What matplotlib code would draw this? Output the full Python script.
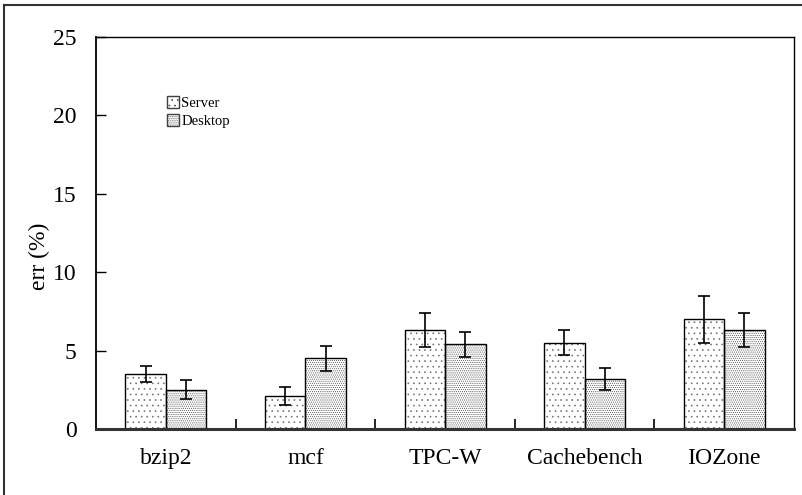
import numpy as np
import matplotlib.pyplot as plt
from matplotlib.patches import Patch
from matplotlib.lines import Line2D

plt.rcParams["font.family"] = ["Liberation Serif", "DejaVu Serif"]
plt.rcParams["hatch.linewidth"] = 0.45

categories = ["bzip2", "mcf", "TPC-W", "Cachebench", "IOZone"]
server = [3.5, 2.1, 6.3, 5.5, 7.0]
server_err = [0.5, 0.6, 1.1, 0.8, 1.5]
desktop = [2.5, 4.5, 5.4, 3.2, 6.3]
desktop_err = [0.6, 0.8, 0.8, 0.7, 1.1]

fig = plt.figure(figsize=(8.03, 4.95), dpi=100)
ax = fig.add_axes([0.1196, 0.1333, 0.8692, 0.792])

# outer frame (right/bottom edges are cropped in the original)
fig.add_artist(Line2D([4 / 803, 4 / 803], [0, 1 - 5 / 495], transform=fig.transFigure, color="#333333", lw=1.5))
fig.add_artist(Line2D([4 / 803, 802 / 803], [1 - 5 / 495, 1 - 5 / 495], transform=fig.transFigure, color="#333333", lw=1.5))

x = np.arange(len(categories))
w = 0.29
ekw = dict(ecolor="black", elinewidth=1.2, capsize=4, capthick=1.2, zorder=4)

# dotted fill textures first, then black outlines and error bars on top
ax.bar(x - w / 2, server, w, color="white", edgecolor="#707070", linewidth=0, hatch="...", zorder=2)
ax.bar(x + w / 2, desktop, w, color="white", edgecolor="#505050", linewidth=0, hatch="........", zorder=2)
ax.bar(x - w / 2, server, w, yerr=server_err, fill=False, edgecolor="black",
       linewidth=1.0, error_kw=ekw, zorder=3)
ax.bar(x + w / 2, desktop, w, yerr=desktop_err, fill=False, edgecolor="black",
       linewidth=1.0, error_kw=ekw, zorder=3)

ax.set_xlim(-0.5, len(categories) - 0.5)
ax.set_ylim(0, 25)
ax.set_yticks([0, 5, 10, 15, 20, 25])
ax.set_xticks(x)
ax.set_xticklabels(categories)
ax.set_xticks(x[:-1] + 0.5, minor=True)
ax.tick_params(axis="x", which="major", length=0, labelsize=17, pad=14)
ax.tick_params(axis="x", which="minor", direction="in", length=7, width=1.2)
ax.tick_params(axis="y", direction="in", length=7, width=1.0, labelsize=17, pad=14)
ax.set_ylabel("err (%)", fontsize=17, labelpad=0)
ax.yaxis.set_label_coords(-0.066, 0.44)

ax.spines["bottom"].set_linewidth(2.2)
ax.spines["bottom"].set_color("#333333")
ax.spines["left"].set_linewidth(1.3)
for s in ["top", "right"]:
    ax.spines[s].set_linewidth(1.0)
for s in ax.spines.values():
    s.set_zorder(5)

handles = [Patch(facecolor="white", edgecolor="#404040", hatch="...", label="Server"),
           Patch(facecolor="white", edgecolor="#404040", hatch="........", label="Desktop")]
ax.legend(handles=handles, loc="upper left", bbox_to_anchor=(0.091, 0.867), frameon=False,
          fontsize=10.5, handlelength=0.8, handleheight=0.8, handletextpad=0.2,
          labelspacing=0.3, borderpad=0)

fig.savefig("out.png", dpi=100)
